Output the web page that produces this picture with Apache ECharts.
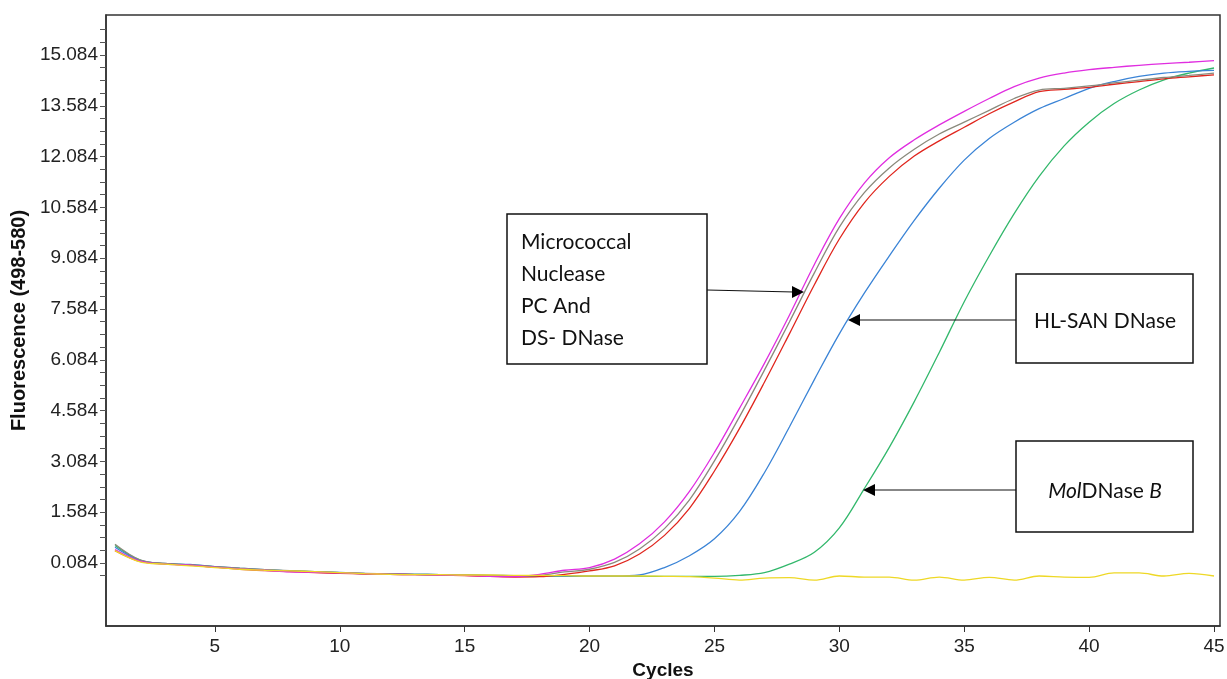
<!DOCTYPE html>
<html><head><meta charset="utf-8">
<script src="https://cdn.jsdelivr.net/npm/echarts@6/dist/echarts.min.js"></script>
<style>html,body{margin:0;padding:0;background:#fff}#c{width:1227px;height:679px}</style>
</head><body><div id="c"></div>
<script>
// ---- data ----
const cycles = Array.from({length: 45}, (_, i) => i + 1);
const magenta = [0.48,0.14,0.05,0.02,-0.04,-0.09,-0.13,-0.18,-0.19,-0.21,-0.23,-0.25,-0.26,-0.27,-0.28,-0.31,-0.32,
  -0.25,-0.13,-0.05,0.2,0.65,1.3,2.2,3.35,4.65,5.98,7.4,8.9,10.25,11.3,12.05,12.58,13.02,13.42,13.8,14.15,14.4,14.55,14.65,14.72,14.78,14.83,14.87,14.92];
const gray = [0.64,0.18,0.07,0.03,-0.02,-0.07,-0.11,-0.14,-0.17,-0.2,-0.22,-0.24,-0.25,-0.26,-0.27,-0.28,-0.3,
  -0.28,-0.18,-0.1,0.1,0.5,1.1,1.95,3.1,4.4,5.78,7.2,8.65,10.0,11.02,11.75,12.3,12.75,13.1,13.45,13.8,14.05,14.1,14.17,14.26,14.34,14.42,14.48,14.55];
const red = [0.45,0.13,0.06,0.02,-0.04,-0.1,-0.14,-0.17,-0.2,-0.22,-0.24,-0.25,-0.26,-0.27,-0.29,-0.31,-0.33,
  -0.32,-0.25,-0.15,0.0,0.35,0.9,1.7,2.8,4.05,5.42,6.85,8.3,9.65,10.72,11.5,12.1,12.55,12.95,13.35,13.7,14.0,14.07,14.13,14.22,14.3,14.38,14.44,14.5];
const blue = [0.55,0.16,0.07,0.04,-0.02,-0.07,-0.11,-0.15,-0.17,-0.19,-0.22,-0.24,-0.25,-0.26,-0.27,-0.28,-0.29,-0.3,-0.3,-0.3,-0.3,
  -0.27,-0.05,0.3,0.8,1.6,2.75,4.1,5.5,6.85,8.05,9.15,10.2,11.15,11.98,12.62,13.1,13.5,13.8,14.1,14.3,14.45,14.55,14.6,14.63];
const green = [0.6,0.17,0.06,0.03,-0.03,-0.08,-0.12,-0.15,-0.18,-0.2,-0.23,-0.24,-0.25,-0.26,-0.27,-0.29,-0.3,-0.31,-0.31,-0.31,-0.31,-0.31,-0.31,-0.31,-0.31,-0.28,-0.2,
  0.05,0.4,1.12,2.28,3.5,4.85,6.3,7.8,9.15,10.4,11.5,12.4,13.1,13.65,14.05,14.35,14.55,14.7];
const yellow = [0.45,0.12,0.05,0.0,-0.05,-0.1,-0.13,-0.15,-0.17,-0.2,-0.23,-0.25,-0.26,-0.26,-0.27,-0.27,-0.28,-0.28,-0.29,-0.3,-0.3,-0.3,-0.31,-0.32,
  -0.36,-0.42,-0.36,-0.35,-0.42,-0.3,-0.33,-0.33,-0.42,-0.33,-0.42,-0.34,-0.42,-0.3,-0.33,-0.34,-0.21,-0.21,-0.3,-0.22,-0.3];
const yTickLabels = [0.084,1.584,3.084,4.584,6.084,7.584,9.084,10.584,12.084,13.584,15.084];
const yMinorTicks = Array.from({length: 44}, (_, i) => -0.291 + i * 0.375);
const xTickLabels = [5,10,15,20,25,30,35,40,45];

const seriesDefs = [
  {name: 'MolDNase B', data: green, color: '#33b86c'},
  {name: 'HL-SAN DNase', data: blue, color: '#3b84d6'},
  {name: 'DS-DNase', data: red, color: '#e0261e'},
  {name: 'PC', data: gray, color: '#8a8a7c'},
  {name: 'Micrococcal Nuclease', data: magenta, color: '#e02ee0'},
  {name: 'Negative', data: yellow, color: '#eed826'}
];

const chart = echarts.init(document.getElementById('c'), null, {renderer: 'canvas'});
const labelFont = {fontFamily: 'Liberation Sans, Arial, sans-serif', fontSize: 19, color: '#222'};
const boxFont = 'Lato, "Open Sans", sans-serif';

function arrowRight(tx, ty) { return [[tx, ty], [tx - 12, ty - 6], [tx - 12, ty + 6]]; }
function arrowLeft(tx, ty) { return [[tx, ty], [tx + 12, ty - 6], [tx + 12, ty + 6]]; }

chart.setOption({
  animation: false,
  backgroundColor: '#fff',
  grid: {left: 106, top: 15, right: 7, bottom: 53, show: true, borderColor: '#333', borderWidth: 1.5, backgroundColor: 'transparent', outerBoundsMode: 'none', containLabel: false},
  xAxis: {
    type: 'value', min: 0.64, max: 45.24,
    name: 'Cycles', nameLocation: 'middle', nameGap: 35,
    nameTextStyle: {fontFamily: 'Liberation Sans, Arial, sans-serif', fontWeight: 'bold', fontSize: 19, color: '#111'},
    axisLine: {show: true, onZero: false, lineStyle: {color: '#333', width: 1.5}},
    axisTick: {show: true, length: 6, customValues: xTickLabels, lineStyle: {color: '#333'}},
    axisLabel: Object.assign({customValues: xTickLabels, margin: 11}, labelFont),
    splitLine: {show: false}
  },
  yAxis: {
    type: 'value', min: -1.776, max: 16.265,
    name: 'Fluorescence (498-580)', nameLocation: 'middle', nameGap: 72,
    nameTextStyle: {fontFamily: 'Liberation Sans, Arial, sans-serif', fontWeight: 'bold', fontSize: 20, color: '#111'},
    axisLine: {show: true, onZero: false, lineStyle: {color: '#333', width: 1.5}},
    axisTick: {show: true, length: 6, customValues: yMinorTicks, lineStyle: {color: '#555'}},
    axisLabel: Object.assign({customValues: yTickLabels, margin: 8, formatter: v => v.toFixed(3)}, labelFont),
    splitLine: {show: false}
  },
  series: seriesDefs.map(s => ({
    type: 'line', name: s.name, showSymbol: false, smooth: 0.35,
    data: cycles.map((c, i) => [c, s.data[i]]),
    lineStyle: {color: s.color, width: 1.3}, itemStyle: {color: s.color}
  })),
  graphic: [
    {type: 'rect', shape: {x: 507, y: 214, width: 200, height: 150}, style: {fill: '#fff', stroke: '#111', lineWidth: 1.5}, z: 100},
    {type: 'text', x: 521, y: 226, style: {text: 'Micrococcal\nNuclease\nPC And\nDS- DNase', font: '21px ' + boxFont, fill: '#111', lineHeight: 32, verticalAlign: 'top'}, z: 101},
    {type: 'line', shape: {x1: 707, y1: 290, x2: 794, y2: 292}, style: {stroke: '#111', lineWidth: 1.2}, z: 100},
    {type: 'polygon', shape: {points: arrowRight(804, 292)}, style: {fill: '#000'}, z: 100},

    {type: 'rect', shape: {x: 1016, y: 274, width: 177, height: 89}, style: {fill: '#fff', stroke: '#111', lineWidth: 1.5}, z: 100},
    {type: 'text', x: 1105, y: 321, style: {text: 'HL-SAN DNase', font: '21px ' + boxFont, fill: '#111', align: 'center', verticalAlign: 'middle'}, z: 101},
    {type: 'line', shape: {x1: 1016, y1: 320, x2: 858, y2: 320}, style: {stroke: '#111', lineWidth: 1.2}, z: 100},
    {type: 'polygon', shape: {points: arrowLeft(848, 320)}, style: {fill: '#000'}, z: 100},

    {type: 'rect', shape: {x: 1016, y: 441, width: 177, height: 91}, style: {fill: '#fff', stroke: '#111', lineWidth: 1.5}, z: 100},
    {type: 'text', x: 1105, y: 491, style: {text: '{i|Mol}DNase {i|B}', font: '21px ' + boxFont, fill: '#111', align: 'center', verticalAlign: 'middle',
      rich: {i: {fontStyle: 'italic', fontFamily: boxFont, fontSize: 21, fill: '#111', color: '#111'}}}, z: 101},
    {type: 'line', shape: {x1: 1016, y1: 490, x2: 873, y2: 490}, style: {stroke: '#111', lineWidth: 1.2}, z: 100},
    {type: 'polygon', shape: {points: arrowLeft(863, 490)}, style: {fill: '#000'}, z: 100}
  ]
});
</script></body></html>
